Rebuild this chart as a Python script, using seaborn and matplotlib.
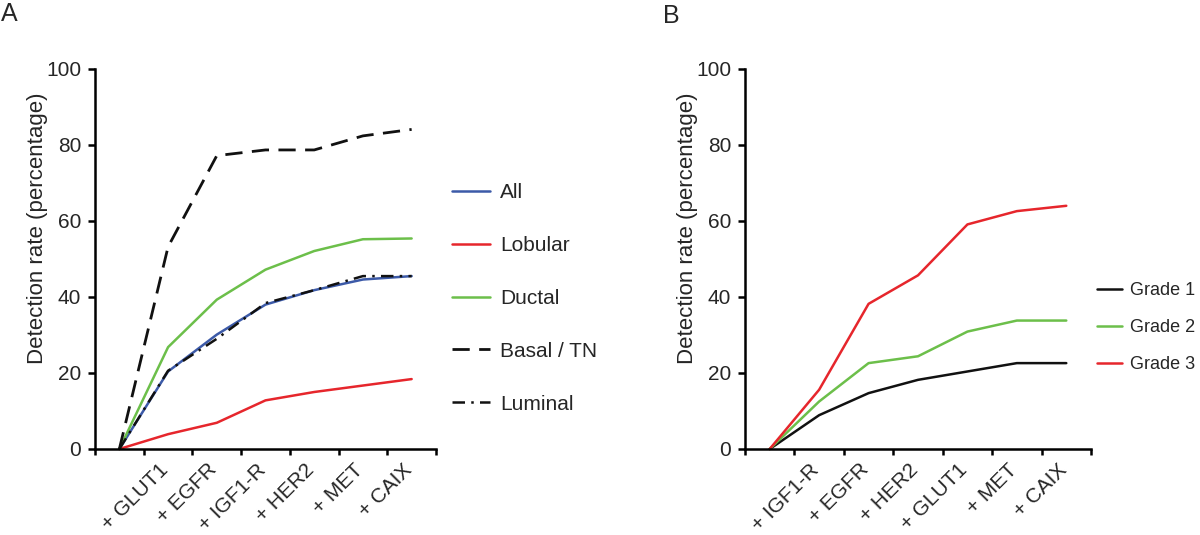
import numpy as np
import pandas as pd
import seaborn as sns
import matplotlib
matplotlib.use("Agg")
import matplotlib.pyplot as plt
import matplotlib.transforms as mtransforms

# ---------------- data ----------------
cats_a = ["", "+ GLUT1", "+ EGFR", "+ IGF1-R", "+ HER2", "+ MET", "+ CAIX"]
all_vals = [0, 20.4, 30.1, 38.0, 41.8, 44.6, 45.5]
lobular_vals = [0, 3.9, 6.9, 12.8, 15.0, 16.7, 18.4]
ductal_vals = [0, 26.8, 39.3, 47.2, 52.1, 55.2, 55.4]
basal_vals = [0, 53.2, 77.2, 78.7, 78.7, 82.4, 84.1]
luminal_vals = [0, 20.6, 29.0, 38.4, 41.8, 45.5, 45.5]

cats_b = ["", "+ IGF1-R", "+ EGFR", "+ HER2", "+ GLUT1", "+ MET", "+ CAIX"]
grade1_vals = [0, 8.9, 14.7, 18.2, 20.4, 22.6, 22.6]
grade2_vals = [0, 12.5, 22.6, 24.4, 30.9, 33.8, 33.8]
grade3_vals = [0, 15.6, 38.2, 45.7, 59.1, 62.6, 64.0]

y_ticks = [0, 20, 40, 60, 80, 100]
ylabel = "Detection rate (percentage)"

# ---------------- style ----------------
sns.set_theme(style="white")
plt.rcParams["font.family"] = ["Liberation Sans", "DejaVu Sans"]
FS = 15
BLUE, RED, GREEN, BLACK = "#3c5aa8", "#e6262c", "#6cbf4a", "#111111"

fig = plt.figure(figsize=(12, 5.35), dpi=100)
W, H = 1200, 535
ax_a = fig.add_axes([95 / W, (H - 449) / H, 341 / W, 380 / H])
ax_b = fig.add_axes([745 / W, (H - 449) / H, 346 / W, 380 / H])


def draw(ax, cats, series):
    x = np.arange(len(cats))
    for label, vals, color, ls, lw in series:
        df = pd.DataFrame({"x": x, "y": vals})
        sns.lineplot(data=df, x="x", y="y", ax=ax, color=color, linewidth=lw,
                     linestyle=ls, label=label, legend=False, clip_on=False)
    ax.set_xlim(-0.5, len(cats) - 0.5)
    ax.set_ylim(0, 100)
    ax.set_yticks(y_ticks)
    ax.set_yticklabels([str(v) for v in y_ticks], fontsize=FS)
    ax.set_xticks(np.arange(len(cats) + 1) - 0.5)
    ax.set_xticklabels([])
    ax.set_xticks(x, minor=True)
    ax.set_xticklabels(cats, minor=True, rotation=45, ha="right", fontsize=FS)
    ax.tick_params(axis="x", which="major", direction="out", length=4.5, width=1.8,
                   color="black", bottom=True)
    ax.tick_params(axis="x", which="minor", length=0, pad=8, bottom=True)
    ax.tick_params(axis="y", which="major", direction="out", length=5, width=1.8,
                   color="black", left=True, pad=5)
    offset = mtransforms.ScaledTranslation(4 / 100, 0, fig.dpi_scale_trans)
    for lab in ax.get_xticklabels(minor=True):
        lab.set_transform(lab.get_transform() + offset)
    for s in ["top", "right"]:
        ax.spines[s].set_visible(False)
    for s in ["left", "bottom"]:
        ax.spines[s].set_linewidth(1.8)
        ax.spines[s].set_color("black")
    ax.set_xlabel("")
    ax.set_ylabel(ylabel, fontsize=16)
    ax.yaxis.set_label_coords(-0.137, 0.58)


draw(ax_a, cats_a, [
    ("All", all_vals, BLUE, "-", 1.8),
    ("Lobular", lobular_vals, RED, "-", 1.8),
    ("Ductal", ductal_vals, GREEN, "-", 1.8),
    ("Basal / TN", basal_vals, BLACK, (0, (6.2, 3.4)), 2.0),
    ("Luminal", luminal_vals, BLACK, (0, (5, 2.5, 1, 2.5)), 1.8),
])
draw(ax_b, cats_b, [
    ("Grade 1", grade1_vals, BLACK, "-", 1.8),
    ("Grade 2", grade2_vals, GREEN, "-", 1.8),
    ("Grade 3", grade3_vals, RED, "-", 1.8),
])

h, l = ax_a.get_legend_handles_labels()
fig.legend(h, l, loc="upper left", bbox_to_anchor=(452 / W, 1 - 183.5 / H),
           frameon=False, fontsize=FS, handlelength=1.8, handletextpad=0.5,
           labelspacing=1.62, borderpad=0, borderaxespad=0)
h, l = ax_b.get_legend_handles_labels()
fig.legend(h, l, loc="upper left", bbox_to_anchor=(1097 / W, 1 - 282 / H),
           frameon=False, fontsize=13, handlelength=1.4, handletextpad=0.4,
           labelspacing=1.12, borderpad=0, borderaxespad=0)

fig.text(1 / W, 1 - 2 / H, "A", fontsize=18, ha="left", va="top")
fig.text(663 / W, 1 - 4 / H, "B", fontsize=18, ha="left", va="top")

fig.savefig("out.png", dpi=100, facecolor="white")
